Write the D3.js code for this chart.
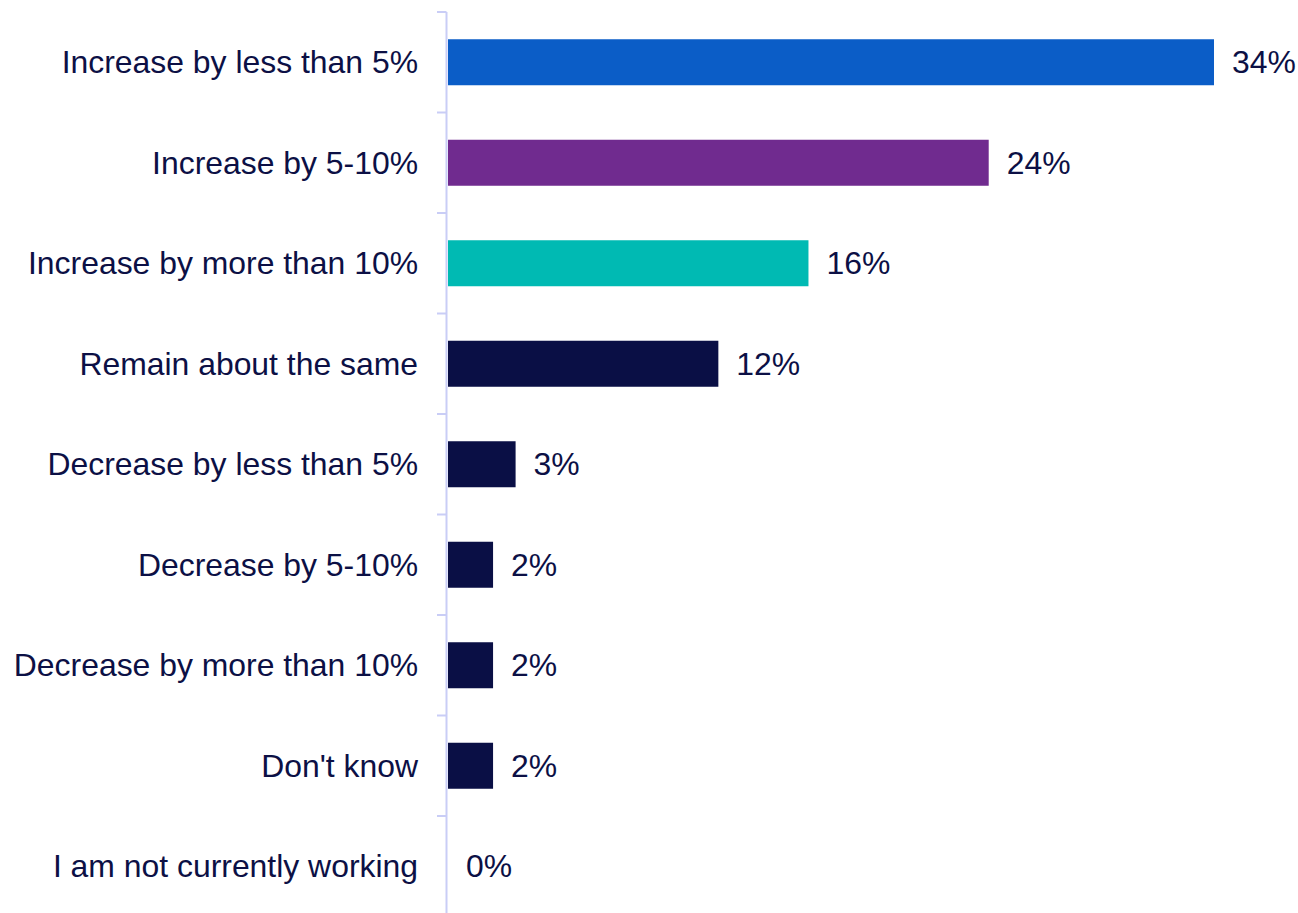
<!DOCTYPE html>
<html>
<head>
<meta charset="utf-8">
<script src="https://cdn.jsdelivr.net/npm/d3@7"></script>
<style>
  html, body { margin: 0; padding: 0; background: #ffffff; }
  svg { display: block; }
  text { font-family: "Liberation Sans", Arial, sans-serif; }
</style>
</head>
<body>
<script>
// Survey answers and the share of respondents (%) for each
const categories = [
  "Increase by less than 5%",
  "Increase by 5-10%",
  "Increase by more than 10%",
  "Remain about the same",
  "Decrease by less than 5%",
  "Decrease by 5-10%",
  "Decrease by more than 10%",
  "Don't know",
  "I am not currently working"
];
const values = [34, 24, 16, 12, 3, 2, 2, 2, 0];
const valueLabels = ["34%", "24%", "16%", "12%", "3%", "2%", "2%", "2%", "0%"];
const barColors = ["#0b5dc7", "#702b8f", "#00bab3", "#0a0f45", "#0a0f45", "#0a0f45", "#0a0f45", "#0a0f45", "#0a0f45"];

const width = 1298, height = 913;
const textColor = "#0c1045";
const axisColor = "#c9cdf6";
const fontSize = 31.9;

const svg = d3.select("body").append("svg")
  .attr("width", width)
  .attr("height", height);

const pad = 1 - 46 / 100.5;
const y = d3.scaleBand()
  .domain(categories)
  .range([12, 916.5])
  .paddingInner(pad)
  .paddingOuter(pad / 2);

const x = d3.scaleLinear()
  .domain([0, 34])
  .range([448, 1214]);

const step = y.step();
const axisX = 446.5;

// vertical category axis with ticks at the band boundaries
svg.append("line")
  .attr("x1", axisX).attr("x2", axisX)
  .attr("y1", 12).attr("y2", height)
  .attr("stroke", axisColor).attr("stroke-width", 2);

const boundaries = categories.map(c => y(c) - step * pad / 2);
svg.selectAll("line.tick")
  .data(boundaries)
  .enter().append("line")
  .attr("class", "tick")
  .attr("x1", 437).attr("x2", axisX)
  .attr("y1", d => d).attr("y2", d => d)
  .attr("stroke", axisColor).attr("stroke-width", 2);

// bars
svg.selectAll("rect.bar")
  .data(categories)
  .enter().append("rect")
  .attr("class", "bar")
  .attr("x", x(0))
  .attr("y", d => y(d))
  .attr("width", (d, i) => x(values[i]) - x(0))
  .attr("height", y.bandwidth())
  .attr("fill", (d, i) => barColors[i]);

// category labels
svg.selectAll("text.cat")
  .data(categories)
  .enter().append("text")
  .attr("class", "cat")
  .attr("x", 418)
  .attr("y", d => y(d) + y.bandwidth() / 2)
  .attr("dy", "0.35em")
  .attr("text-anchor", "end")
  .attr("font-size", fontSize)
  .attr("fill", textColor)
  .text(d => d);

// value labels
svg.selectAll("text.val")
  .data(categories)
  .enter().append("text")
  .attr("class", "val")
  .attr("x", (d, i) => x(values[i]) + 18)
  .attr("y", d => y(d) + y.bandwidth() / 2)
  .attr("dy", "0.35em")
  .attr("text-anchor", "start")
  .attr("font-size", fontSize)
  .attr("fill", textColor)
  .text((d, i) => valueLabels[i]);
</script>
</body>
</html>
